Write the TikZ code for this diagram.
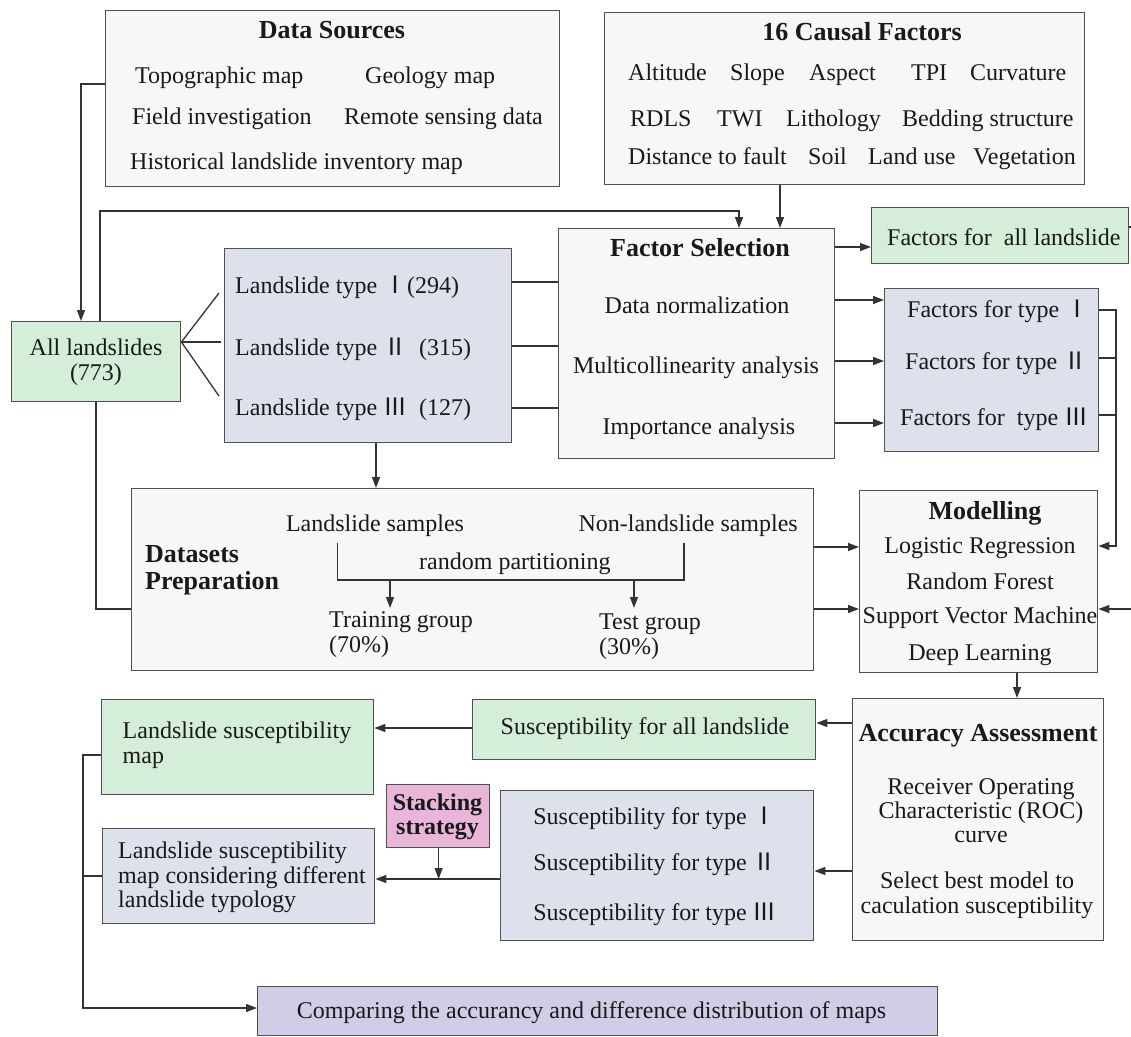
\documentclass[tikz,border=0pt]{standalone}
\usepackage{fontspec}
\setmainfont{Liberation Serif}
\newfontfamily\cjk{Noto Sans CJK SC}
\usetikzlibrary{arrows.meta,calc}
\definecolor{boxgray}{HTML}{F7F7F7}
\definecolor{boxgreen}{HTML}{D4EEDA}
\definecolor{boxblue}{HTML}{DDE1EC}
\definecolor{boxpink}{HTML}{E9B5D9}
\definecolor{boxpurple}{HTML}{D1CDE6}
\definecolor{edgecol}{HTML}{505050}
\definecolor{linecol}{HTML}{333333}
\newcommand{\rn}[1]{{\cjk #1}}
\begin{document}
\begin{tikzpicture}[x=1pt,y=-1pt,
  every node/.style={font=\fontsize{24}{25}\selectfont, inner sep=0pt, text=black!90, text height=17pt, text depth=5pt},
  ml/.style={text height={}, text depth={}},
  frame/.style={draw=edgecol, line width=1.4pt, anchor=north west, inner sep=0pt, text height={}, text depth={}},
  graybox/.style={frame, fill=boxgray},
  greenbox/.style={frame, fill=boxgreen},
  bluebox/.style={frame, fill=boxblue},
  pinkbox/.style={frame, fill=boxpink},
  purplebox/.style={frame, fill=boxpurple},
  ttl/.style={font=\fontsize{26}{27}\selectfont\bfseries},
  conn/.style={draw=linecol, line width=1.3pt},
  arr/.style={conn, -{Triangle[length=11pt,width=8pt]}}
]
\useasboundingbox (0,0) rectangle (1131,1036);

% ---------- boxes ----------
\node[graybox, minimum width=454pt, minimum height=176pt] (ds) at (105,10) {};
\node[graybox, minimum width=480pt, minimum height=172pt] (cf) at (604,12) {};
\node[graybox, minimum width=276pt, minimum height=230pt] (fs) at (558,228) {};
\node[greenbox, minimum width=257pt, minimum height=56pt] (fa) at (871,207) {};
\node[bluebox, minimum width=214pt, minimum height=163pt] (ft) at (884,288) {};
\node[bluebox, minimum width=287pt, minimum height=194pt] (lt) at (224,248) {};
\node[greenbox, minimum width=169pt, minimum height=80pt] (al) at (11,321) {};
\node[graybox, minimum width=682pt, minimum height=182pt] (dp) at (131,488) {};
\node[graybox, minimum width=238pt, minimum height=182pt] (mo) at (859,490) {};
\node[graybox, minimum width=251pt, minimum height=242pt] (aa) at (852,698) {};
\node[greenbox, minimum width=343pt, minimum height=60pt] (sa) at (472,699) {};
\node[bluebox, minimum width=313pt, minimum height=150pt] (st) at (500,790) {};
\node[greenbox, minimum width=272pt, minimum height=95pt] (lsm) at (101,699) {};
\node[bluebox, minimum width=272pt, minimum height=95pt] (lsmt) at (102,828) {};
\node[pinkbox, minimum width=103pt, minimum height=63pt] (sk) at (386,784) {};
\node[purplebox, minimum width=680pt, minimum height=49pt] (cmp) at (257,986) {};

% ---------- texts ----------
\node[ttl] (dsT) at (332,32) {Data Sources};
\node[anchor=west] (ds1) at (135,77) {Topographic map};
\node[anchor=west] (ds2) at (365,77) {Geology map};
\node[anchor=west] (ds3) at (132,118) {Field investigation};
\node[anchor=west] (ds4) at (344,118) {Remote sensing data};
\node[anchor=west] (ds5) at (130,163) {Historical landslide inventory map};

\node[ttl] (cfT) at (862,34) {16 Causal Factors};
\node[anchor=west] (c1) at (628,74) {Altitude};
\node[anchor=west] (c2) at (730,74) {Slope};
\node[anchor=west] (c3) at (809,74) {Aspect};
\node[anchor=west] (c4) at (911,74) {TPI};
\node[anchor=west] (c5) at (970,74) {Curvature};
\node[anchor=west] (c6) at (630,120) {RDLS};
\node[anchor=west] (c7) at (717,120) {TWI};
\node[anchor=west] (c8) at (786,120) {Lithology};
\node[anchor=west] (c9) at (902,120) {Bedding structure};
\node[anchor=west] (c10) at (628,158) {Distance to fault};
\node[anchor=west] (c11) at (808,158) {Soil};
\node[anchor=west] (c12) at (868,158) {Land use};
\node[anchor=west] (c13) at (973,158) {Vegetation};

\node[ttl] (fsT) at (700,250) {Factor Selection};
\node (fs1) at (697,307) {Data normalization};
\node (fs2) at (696,367) {Multicollinearity analysis};
\node (fs3) at (699,428) {Importance analysis};

\node[anchor=west] (faT) at (887,239) {Factors for\ \ all landslide};
\node[anchor=west] (ft1) at (907,311) {Factors for type \rn{Ⅰ}};
\node[anchor=west] (ft2) at (905,363) {Factors for type \rn{Ⅱ}};
\node[anchor=west] (ft3) at (900,419) {Factors for\ \ type \rn{Ⅲ}};

\node[anchor=west] (lt1) at (235,287) {Landslide type \rn{Ⅰ}(294)};
\node[anchor=west] (lt2) at (235,349) {Landslide type \rn{Ⅱ}\ \ (315)};
\node[anchor=west] (lt3) at (235,409) {Landslide type \rn{Ⅲ}\ \ (127)};

\node[ml, align=center] (alT) at (96,362) {All landslides\\(773)};

\node[ml, ttl, anchor=west, align=left] (dpT) at (145,570) {Datasets\\Preparation};
\node (dp1) at (375,525) {Landslide samples};
\node[anchor=east] (dp2) at (798,525) {Non-landslide samples};
\node[anchor=west] (dp3) at (419,563) {random partitioning};
\node[ml, anchor=west, align=left] (dp4) at (329,635) {Training group\\(70\%)};
\node[ml, anchor=west, align=left] (dp5) at (599,637) {Test group\\(30\%)};

\node[ttl] (moT) at (985,513) {Modelling};
\node (mo1) at (980,547) {Logistic Regression};
\node (mo2) at (980,583) {Random Forest};
\node (mo3) at (980,617) {Support Vector Machine};
\node (mo4) at (980,654) {Deep Learning};

\node[ttl] (aaT) at (978,735) {Accuracy Assessment};
\node[ml, align=center, font=\fontsize{24}{24}\selectfont] (aa1) at (981,811) {Receiver Operating\\Characteristic (ROC)\\curve};
\node[ml, align=center] (aa2) at (977,895.5) {Select best model to\\caculation susceptibility};

\node (saT) at (645,728) {Susceptibility for all landslide};
\node (st1) at (655,818) {Susceptibility for type \rn{Ⅰ}};
\node (st2) at (655,864) {Susceptibility for type \rn{Ⅱ}};
\node (st3) at (655,914) {Susceptibility for type \rn{Ⅲ}};

\node[ml, anchor=west, align=left] (lsmT) at (122.5,745.5) {Landslide susceptibility\\map};
\node[ml, anchor=west, align=left, font=\fontsize{24}{24.5}\selectfont] (lsmtT) at (118,877.5) {Landslide susceptibility\\map considering different\\landslide typology};
\node[ml, align=center, font=\fontsize{24}{24}\selectfont\bfseries] (skT) at (437.5,817) {Stacking\\strategy};
\node (cmpT) at (591.5,1012) {Comparing the accurancy and difference distribution of maps};

% ---------- connectors ----------
\coordinate (b1) at (81,84);
\draw[arr] (ds.west |- b1) -| (al.north -| b1);
\coordinate (b2) at (100,211);
\coordinate (b3) at (739,211);
\draw[arr] (al.north -| b2) |- (b3) -- (fs.north -| b3);
\coordinate (b4) at (780,0);
\draw[arr] (cf.south -| b4) -- (fs.north -| b4);

\coordinate (ya) at (0,247);
\draw[arr] (fs.east |- ya) -- (fa.west |- ya);
\foreach \yy in {300,361,423} \draw[arr] (fs.east |- 0,\yy) -- (ft.west |- 0,\yy);
\foreach \yy in {282,346,408} \draw[conn] (lt.east |- 0,\yy) -- (fs.west |- 0,\yy);

\coordinate (f1) at (219,293);
\coordinate (f2) at (221,342);
\coordinate (f3) at (219,396);
\draw[conn] (f1) -- (al.east |- f2) -- (f3);
\draw[conn] (al.east |- f2) -- (f2);

\coordinate (bx) at (1116,0);
\draw[conn] (ft.east |- 0,358) -- (bx |- 0,358);
\draw[conn] (ft.east |- 0,415) -- (bx |- 0,415);
\draw[arr] (ft.east |- 0,310) -| (bx |- 0,546) -- (mo.east |- 0,546);
\coordinate (rin) at (1131,609);
\draw[arr] (rin) -- (mo.east |- rin);
\coordinate (rout) at (1131,227);
\draw[conn] (fa.east |- rout) -- (rout);

\coordinate (dl) at (376,0);
\draw[arr] (lt.south -| dl) -- (dp.north -| dl);
\coordinate (al2) at (96,609);
\draw[conn] (al.south -| al2) |- (dp.west |- al2);
\foreach \yy in {547,609} \draw[arr] (dp.east |- 0,\yy) -- (mo.west |- 0,\yy);

\coordinate (p1) at (337.5,543);
\coordinate (p2) at (684,543);
\coordinate (pm) at (0,580);
\draw[conn] (p1) |- (p2 |- pm) -- (p2);
\coordinate (q1) at (390,580);
\coordinate (q2) at (390,608);
\draw[arr] (q1) -- (q2);
\coordinate (q3) at (634,580);
\coordinate (q4) at (634,608);
\draw[arr] (q3) -- (q4);

\coordinate (ml) at (1017,0);
\draw[arr] (mo.south -| ml) -- (aa.north -| ml);
\draw[arr] (aa.west |- 0,723) -- (sa.east |- 0,723);
\draw[arr] (aa.west |- 0,871) -- (st.east |- 0,871);
\draw[arr] (sa.west |- 0,728) -- (lsm.east |- 0,728);
\draw[arr] (st.west |- 0,879) -- (lsmt.east |- 0,879);
\coordinate (mj) at (438.6,879);
\draw[arr] (sk.south -| mj) -- (mj);
\coordinate (lb) at (83,0);
\draw[arr] (lsm.west |- 0,755) -| (lb |- 0,1008) -- (cmp.west |- 0,1008);
\draw[conn] (lsmt.west |- 0,876) -- (lb |- 0,876);
\end{tikzpicture}
\end{document}
